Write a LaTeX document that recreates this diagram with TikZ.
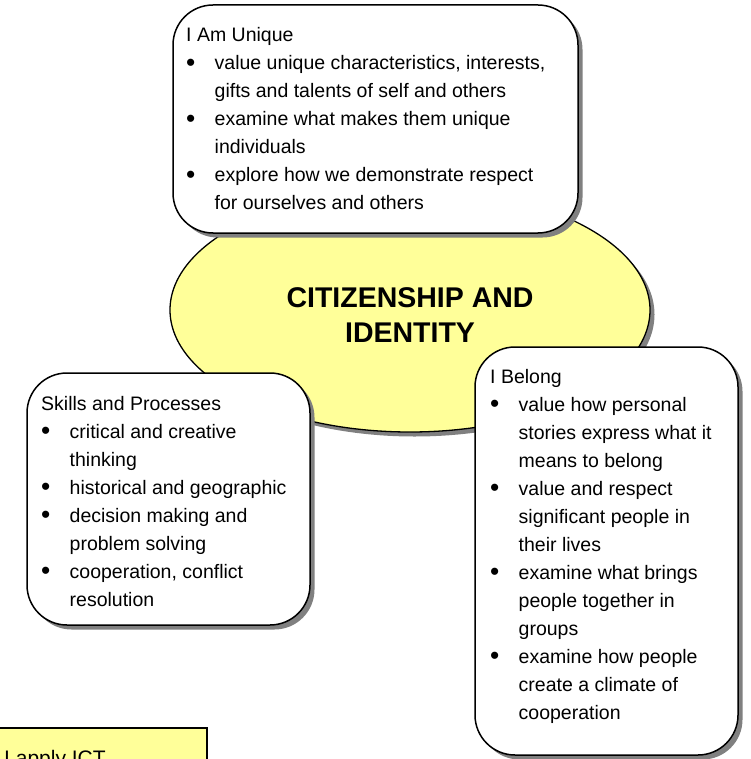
\documentclass[tikz,border=0pt]{standalone}
\usepackage{fontspec}
\usepackage{graphicx}
\setmainfont{Liberation Sans}
\usetikzlibrary{shapes.geometric,shadows}
\definecolor{ylw}{HTML}{FFFF99}
\definecolor{shd}{HTML}{808080}
\newcommand\bl{\makebox[28.5pt][l]{\raisebox{-1.5pt}{\scalebox{1.35}{\textbullet}}}}
\newcommand\ind{\hspace*{28.5pt}}
\begin{document}
\begin{tikzpicture}[x=1pt,y=-1pt,
  sh/.style={drop shadow={shadow xshift=4.5pt, shadow yshift=-4.5pt, fill=shd, opacity=1}},
  box/.style={draw=black, line width=1.5pt, fill=white, rounded corners=40pt, inner sep=0pt, sh},
  body/.style={anchor=north west, inner sep=0pt, align=left, font=\fontsize{19.5}{28}\selectfont},
  core/.style={ellipse, draw=black, line width=1.3pt, fill=ylw, inner sep=0pt, sh},
  ictbox/.style={draw=black, line width=2pt, fill=ylw, inner sep=0pt}
]
\useasboundingbox (0,0) rectangle (750,759);

% central ellipse
\node[core, minimum width=480pt, minimum height=244pt] (core) at (410,310) {};
\node[anchor=north, inner sep=0pt, align=center, font=\bfseries\fontsize{28.5}{35}\selectfont] (coretext) at (410,286)
  {\rule{0pt}{21pt}CITIZENSHIP AND\\IDENTITY};

% I Am Unique
\node[box, minimum width=405pt, minimum height=228pt] (unique) at (375.5,119) {};
\node[body] (uniquetext) at (186,26.7) {\rule{0pt}{15pt}I Am Unique\\
\bl value unique characteristics, interests,\\
\ind gifts and talents of self and others\\
\bl examine what makes them unique\\
\ind individuals\\
\bl explore how we demonstrate respect\\
\ind for ourselves and others};

% Skills and Processes
\node[box, minimum width=283pt, minimum height=252pt] (skills) at (168.5,499) {};
\node[body] (skillstext) at (41,395) {\rule{0pt}{15pt}Skills and Processes\\
\bl critical and creative\\
\ind thinking\\
\bl historical and geographic\\
\bl decision making and\\
\ind problem solving\\
\bl cooperation, conflict\\
\ind resolution};

% I Belong
\node[box, minimum width=263pt, minimum height=408pt] (belong) at (606.5,551) {};
\node[body] (belongtext) at (490,368) {\rule{0pt}{15pt}I Belong\\
\bl value how personal\\
\ind stories express what it\\
\ind means to belong\\
\bl value and respect\\
\ind significant people in\\
\ind their lives\\
\bl examine what brings\\
\ind people together in\\
\ind groups\\
\bl examine how people\\
\ind create a climate of\\
\ind cooperation};

% I apply ICT (cut off at bottom)
\node[ictbox, minimum width=227pt, minimum height=60pt] (ict) at (93.5,758) {};
\node[anchor=base west, inner sep=0pt, font=\fontsize{21}{25}\selectfont] (icttext) at (4,765) {I apply ICT};
\end{tikzpicture}
\end{document}
